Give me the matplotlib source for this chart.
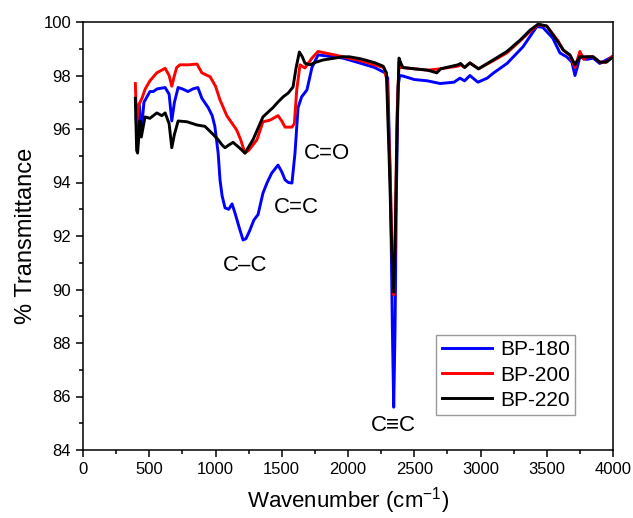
import matplotlib
matplotlib.use("Agg")
import matplotlib.pyplot as plt
from matplotlib.ticker import MultipleLocator

plt.rcParams['font.family'] = ['Liberation Sans', 'DejaVu Sans']
plt.rcParams['mathtext.fontset'] = 'custom'
plt.rcParams['mathtext.rm'] = 'Liberation Sans'
plt.rcParams['mathtext.it'] = 'Liberation Sans'

# BP-180 (blue)
wn_180 = [400, 410, 425, 440, 460, 505, 530, 560, 620, 650, 670, 690, 718, 750, 792, 830, 867, 897,
          945, 975, 995, 1020, 1034, 1050, 1072, 1100, 1125, 1147, 1180, 1208, 1230, 1258, 1290, 1321,
          1358, 1390, 1424, 1472, 1500, 1525, 1550, 1577, 1600, 1623, 1650, 1690, 1710, 1728, 1774,
          1840, 1962, 2100, 2200, 2280, 2300, 2320, 2335, 2345, 2355, 2365, 2378, 2390, 2415, 2500,
          2600, 2695, 2800, 2845, 2880, 2920, 2980, 3050, 3100, 3200, 3320, 3425, 3470, 3545, 3600,
          3650, 3690, 3713, 3730, 3750, 3800, 3850, 3900, 3975, 4000]
t_180 = [96.5, 95.6, 96.9, 95.9, 97.0, 97.4, 97.4, 97.5, 97.55, 97.3, 96.3, 97.0, 97.55, 97.5, 97.4, 97.5, 97.55, 97.15,
         96.8, 96.5, 96.1, 95.1, 94.1, 93.5, 93.05, 93.0, 93.2, 92.86, 92.3, 91.85, 91.9, 92.2, 92.6, 92.8,
         93.6, 94.0, 94.35, 94.65, 94.4, 94.1, 94.0, 93.98, 95.1, 96.8, 97.2, 97.46, 97.9, 98.3, 98.77,
         98.73, 98.65, 98.45, 98.3, 98.1, 97.9, 94.0, 88.5, 85.6, 88.5, 93.5, 97.6, 98.0, 97.98, 97.85,
         97.8, 97.7, 97.75, 97.9, 97.8, 98.0, 97.75, 97.9, 98.1, 98.45, 99.07, 99.83, 99.8, 99.4, 98.84,
         98.7, 98.5, 98.0, 98.3, 98.7, 98.6, 98.65, 98.45, 98.65, 98.7]

# BP-200 (red)
wn_200 = [395, 405, 420, 445, 470, 505, 557, 620, 650, 670, 690, 707, 732, 800, 860, 897, 960, 1000,
          1033, 1085, 1160, 1190, 1222, 1250, 1313, 1358, 1411, 1472, 1500, 1525, 1577, 1595, 1613,
          1638, 1675, 1728, 1774, 1840, 1962, 2100, 2200, 2270, 2295, 2320, 2335, 2345, 2355, 2370,
          2385, 2400, 2500, 2600, 2694, 2830, 2850, 2880, 2920, 2985, 3095, 3200, 3300, 3375, 3435,
          3500, 3585, 3625, 3675, 3713, 3750, 3780, 3800, 3850, 3900, 3950, 3990]
t_200 = [97.7, 96.2, 96.9, 97.15, 97.5, 97.8, 98.1, 98.27, 98.0, 97.6, 98.0, 98.3, 98.4, 98.4, 98.43, 98.1, 97.95, 97.6,
         97.1, 96.5, 95.96, 95.6, 95.1, 95.2, 95.6, 96.27, 96.33, 96.5, 96.3, 96.07, 96.07, 96.2, 97.46,
         98.4, 98.28, 98.65, 98.9, 98.83, 98.7, 98.55, 98.4, 98.3, 97.8, 94.0, 91.0, 89.8, 91.5, 96.5,
         98.5, 98.3, 98.25, 98.2, 98.25, 98.35, 98.4, 98.3, 98.47, 98.25, 98.55, 98.85, 99.3, 99.65, 99.9,
         99.85, 99.3, 98.95, 98.75, 98.3, 98.9, 98.6, 98.7, 98.7, 98.5, 98.5, 98.7]

# BP-220 (black)
wn_220 = [395, 405, 412, 430, 440, 468, 505, 557, 595, 620, 650, 670, 690, 718, 785, 860, 920, 982,
          1020, 1050, 1072, 1100, 1132, 1180, 1222, 1283, 1358, 1390, 1434, 1470, 1510, 1550, 1585,
          1608, 1633, 1655, 1675, 1713, 1760, 1811, 1900, 1962, 2010, 2100, 2200, 2265, 2290, 2310,
          2330, 2345, 2355, 2370, 2385, 2400, 2415, 2500, 2600, 2670, 2700, 2830, 2850, 2880, 2920,
          2985, 3095, 3200, 3300, 3375, 3435, 3500, 3585, 3625, 3675, 3713, 3750, 3800, 3850, 3900,
          3950, 3990]
t_220 = [97.15, 95.2, 95.1, 96.3, 95.7, 96.45, 96.4, 96.6, 96.5, 96.6, 96.2, 95.3, 95.8, 96.3, 96.27, 96.15, 96.1, 95.8,
         95.6, 95.4, 95.3, 95.4, 95.5, 95.3, 95.1, 95.6, 96.45, 96.6, 96.8, 97.0, 97.2, 97.35, 97.57,
         98.28, 98.88, 98.7, 98.46, 98.4, 98.5, 98.58, 98.65, 98.7, 98.7, 98.62, 98.48, 98.35, 98.1, 95.0,
         91.5, 89.9, 91.5, 96.0, 98.65, 98.45, 98.3, 98.25, 98.2, 98.1, 98.25, 98.4, 98.45, 98.3, 98.47,
         98.25, 98.58, 98.9, 99.33, 99.7, 99.92, 99.85, 99.25, 98.95, 98.77, 98.4, 98.7, 98.7, 98.7, 98.5,
         98.5, 98.65]

labels = ["BP-180", "BP-200", "BP-220"]
colors = ["#0000ff", "#ff0000", "#000000"]

annotations = [("C\u2013C", 1222, 90.9), ("C=C", 1608, 93.05),
               ("C=O", 1840, 95.1), ("C\u2261C", 2340, 84.9)]

fig = plt.figure(figsize=(6.33, 5.18), dpi=100)
ax = fig.add_axes([83/633, 1 - 450/518, 530/633, 428/518])

for x, y, lab, c in zip([wn_180, wn_200, wn_220], [t_180, t_200, t_220], labels, colors):
    ax.plot(x, y, color=c, lw=2.1, label=lab)

for txt, x, y in annotations:
    ax.text(x, y, txt, ha='center', va='center', fontsize=16,
            family=['Liberation Sans', 'DejaVu Sans'])

ax.set_xlim(0, 4000)
ax.set_ylim(84, 100)
ax.xaxis.set_major_locator(MultipleLocator(500))
ax.xaxis.set_minor_locator(MultipleLocator(250))
ax.yaxis.set_major_locator(MultipleLocator(2))
ax.yaxis.set_minor_locator(MultipleLocator(1))
ax.tick_params(which='both', direction='out', top=False, right=False, labelsize=12, width=1.1)
ax.tick_params(which='major', length=5)
ax.tick_params(which='minor', length=3)
for s in ax.spines.values():
    s.set_linewidth(1.1)

ax.set_xlabel("Wavenumber (cm$^{\\mathregular{-1}}$)", fontsize=16, labelpad=6)
ax.set_ylabel("% Transmittance", fontsize=17, labelpad=5)

leg = ax.legend(loc='lower right', bbox_to_anchor=(575/633, 1 - 415/518), bbox_transform=fig.transFigure,
                fontsize=15, frameon=True, fancybox=False, edgecolor='#808080',
                handlelength=2.4, handletextpad=0.4, borderpad=0.25, labelspacing=0.3, borderaxespad=0)
leg.get_frame().set_linewidth(1.0)

fig.savefig("out.png", dpi=100)
